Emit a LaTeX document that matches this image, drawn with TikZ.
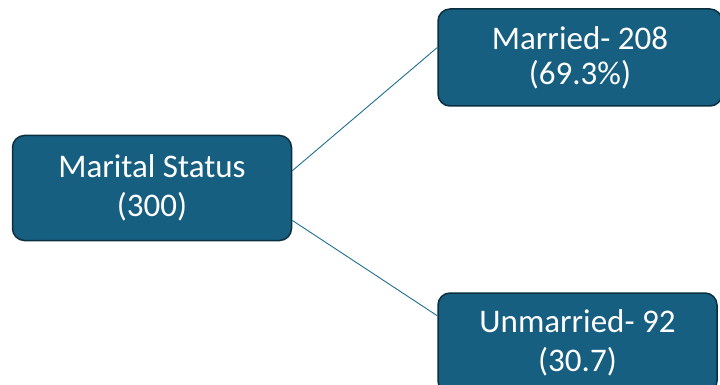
\documentclass[tikz,border=0pt]{standalone}
\usepackage{fontspec}
\setmainfont{Carlito}
\begin{document}
\begin{tikzpicture}[x=1pt,y=-1pt,
  catbox/.style={draw=boxedge,line width=1.5pt,fill=boxfill,rounded corners=12pt,
    text=white,align=center,inner sep=0pt,
    font=\fontsize{33}{39}\selectfont},
  link/.style={draw=linkcol,line width=0.9pt}]
\definecolor{boxfill}{HTML}{165F80}
\definecolor{boxedge}{HTML}{0C2F40}
\definecolor{linkcol}{HTML}{1F6E8F}
\useasboundingbox (0,0) rectangle (720,385);
% category boxes
\node[catbox,minimum width=279pt,minimum height=105pt] (ms) at (152,188) {Marital Status\\(300)};
\node[catbox,minimum width=284pt,minimum height=97pt,font=\fontsize{33}{35}\selectfont] (mar) at (580,57.5) {Married- 208\\(69.3\%)};
\node[catbox,minimum width=279pt,minimum height=100pt] (unm) at (577.5,343) {Unmarried- 92\\(30.7)};
% connectors
\draw[link] (ms.7.5) -- (mar.176.8);
\draw[link] (ms.-13) -- (unm.169);
\end{tikzpicture}
\end{document}
